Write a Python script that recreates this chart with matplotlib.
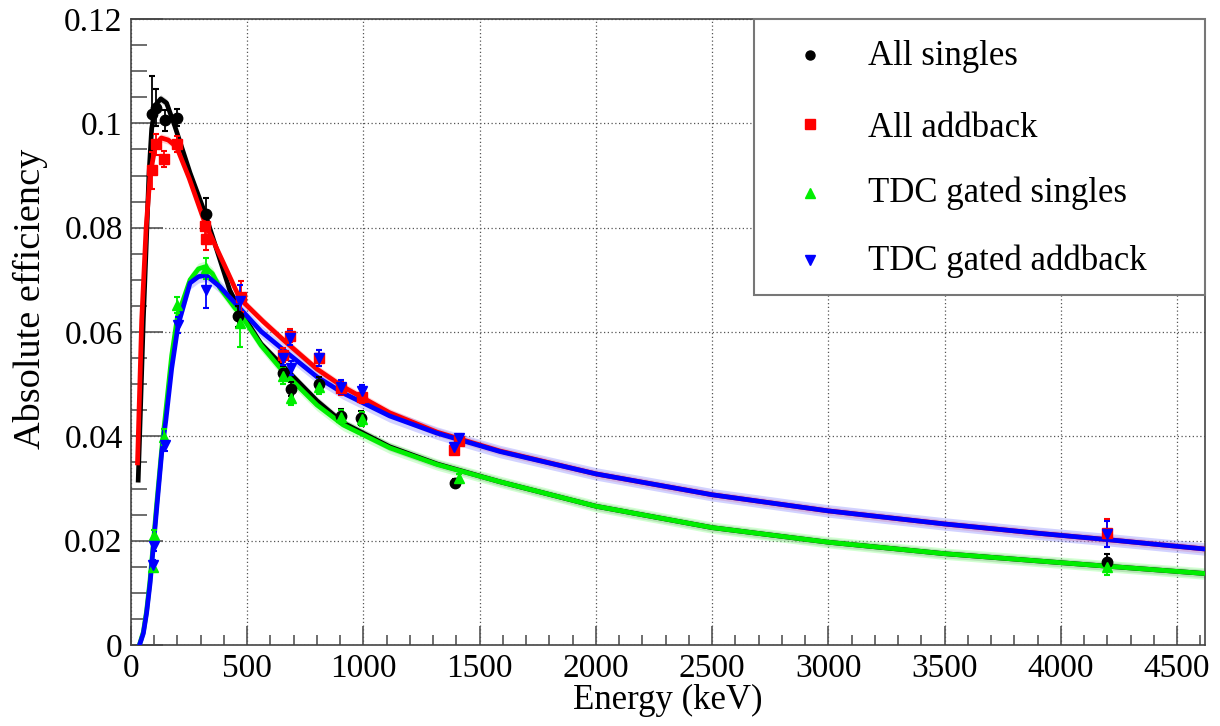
import matplotlib
matplotlib.use("Agg")
import matplotlib.pyplot as plt
from matplotlib.ticker import MultipleLocator, FuncFormatter
from matplotlib.patches import Rectangle

plt.rcParams['font.family'] = ['Liberation Serif', 'DejaVu Serif']

# measured points (energy in keV, absolute efficiency, error)
sing_e = [92, 107, 146, 196, 322, 461, 655, 688, 809, 902, 991, 1392, 4200]
sing_y = [0.1018, 0.1030, 0.1006, 0.1011, 0.0826, 0.0630, 0.0522, 0.0491, 0.0500, 0.0439, 0.0435, 0.0310, 0.0160]
sing_err = [0.0072, 0.0035, 0.0020, 0.0017, 0.0030, 0.0020, 0.0013, 0.0013, 0.0013, 0.0013, 0.0013, 0.0008, 0.0015]

add_e = [92, 107, 143, 196, 320, 323, 474, 655, 684, 809, 902, 992, 1390, 1410, 4200]
add_y = [0.0910, 0.0960, 0.0932, 0.0961, 0.0803, 0.0778, 0.0668, 0.0556, 0.0593, 0.0550, 0.0492, 0.0476, 0.0374, 0.0392, 0.0214]
add_err = [0.0035, 0.0020, 0.0015, 0.0015, 0.0020, 0.0020, 0.0030, 0.0013, 0.0013, 0.0015, 0.0013, 0.0013, 0.0008, 0.0008, 0.0027]

tdc_sing_e = [93, 100, 143, 196, 322, 468, 655, 688, 809, 902, 992, 1411, 4200]
tdc_sing_y = [0.0150, 0.0211, 0.0399, 0.0652, 0.0722, 0.0617, 0.0516, 0.0473, 0.0495, 0.0438, 0.0433, 0.0320, 0.0150]
tdc_sing_err = [0.0010, 0.0010, 0.0015, 0.0015, 0.0020, 0.0045, 0.0015, 0.0013, 0.0013, 0.0013, 0.0013, 0.0008, 0.0015]

tdc_add_e = [93, 100, 146, 203, 322, 470, 655, 684, 688, 809, 902, 993, 1391, 1411, 4200]
tdc_add_y = [0.0153, 0.0190, 0.0383, 0.0614, 0.0681, 0.0660, 0.0550, 0.0588, 0.0531, 0.0550, 0.0495, 0.0486, 0.0380, 0.0396, 0.0212]
tdc_add_err = [0.0010, 0.0010, 0.0012, 0.0015, 0.0035, 0.0030, 0.0013, 0.0013, 0.0013, 0.0015, 0.0013, 0.0013, 0.0008, 0.0008, 0.0025]

# fitted efficiency curves
sing_fit_e = [31, 40, 53, 65, 77, 89, 105, 128, 153, 189, 254, 318, 425, 476, 560, 655, 800, 912,
              1113, 1317, 1586, 2000, 2500, 3000, 3500, 3906, 4200, 4620]
sing_fit_y = [0.0316, 0.0440, 0.0623, 0.0760, 0.0900, 0.0990, 0.1035, 0.1047, 0.1039, 0.0994, 0.0905,
              0.0828, 0.0680, 0.0636, 0.0577, 0.0534, 0.0468, 0.0426,
              0.0380, 0.0347, 0.0313, 0.0266, 0.0225, 0.0197, 0.0175, 0.0161, 0.0151, 0.0137]

add_fit_e = [28, 46, 65, 82, 105, 130, 160, 196, 250, 318, 400, 468, 569, 655, 800, 912,
             1113, 1317, 1586, 2000, 2500, 3000, 3500, 3906, 4200, 4620]
add_fit_y = [0.0349, 0.0623, 0.0800, 0.0900, 0.0958, 0.0972, 0.0968, 0.0955, 0.0895, 0.0809, 0.0730,
             0.0664, 0.0620, 0.0585, 0.0529, 0.0495,
             0.0445, 0.0408, 0.0372, 0.0328, 0.0288, 0.0257, 0.0232, 0.0214, 0.0202, 0.0184]

tdc_sing_fit_e = [38, 53, 67, 82, 96, 110, 132, 150, 175, 200, 254, 290, 318, 350, 382, 447, 468, 560,
                  655, 800, 912, 1113, 1317, 1586, 2000, 2500, 3000, 3500, 3906, 4200, 4620]
tdc_sing_fit_y = [0.0003, 0.0025, 0.0065, 0.0125, 0.0195, 0.0268, 0.0375, 0.0450, 0.0555, 0.0630, 0.0700,
                  0.0721, 0.0725, 0.0712, 0.0685, 0.0646, 0.0636, 0.0574,
                  0.0524, 0.0460, 0.0422, 0.0378, 0.0346, 0.0313, 0.0266, 0.0225, 0.0197, 0.0175,
                  0.0161, 0.0151, 0.0137]

tdc_add_fit_e = [38, 53, 67, 82, 96, 110, 132, 150, 175, 203, 254, 290, 322, 382, 461, 560,
                 655, 800, 912, 1113, 1317, 1586, 2000, 2500, 3000, 3500, 3906, 4200, 4620]
tdc_add_fit_y = [0.0002, 0.0022, 0.0061, 0.0118, 0.0188, 0.0259, 0.0368, 0.0431, 0.0530, 0.0614, 0.0694,
                 0.0706, 0.0709, 0.0687, 0.0649, 0.0601,
                 0.0566, 0.0514, 0.0483, 0.0439, 0.0406, 0.0371, 0.0328, 0.0288, 0.0257, 0.0232,
                 0.0214, 0.0202, 0.0184]

labels = ["All singles", "All addback", "TDC gated singles", "TDC gated addback"]
colors = ["black", "#ff0000", "#00ee00", "#0000ff"]
band_colors = ["#888888", "#ff8080", "#80ff80", "#8080ff"]
markers = ["o", "s", "^", "v"]

points = [(sing_e, sing_y, sing_err), (add_e, add_y, add_err),
          (tdc_sing_e, tdc_sing_y, tdc_sing_err), (tdc_add_e, tdc_add_y, tdc_add_err)]
fits = [(sing_fit_e, sing_fit_y), (add_fit_e, add_fit_y),
        (tdc_sing_fit_e, tdc_sing_fit_y), (tdc_add_fit_e, tdc_add_fit_y)]
band_half = [0.0008, 0.0008, 0.0011, 0.0012]

fig = plt.figure(figsize=(12.2, 7.26), dpi=100)
ax = fig.add_axes([131 / 1220, 81 / 726, 1074 / 1220, 626 / 726])

for i, (fe, fy) in enumerate(fits):
    lo = [v - band_half[i] for v in fy]
    hi = [v + band_half[i] for v in fy]
    ax.fill_between(fe, lo, hi, color=band_colors[i], alpha=0.35, lw=0, zorder=2)
    ax.plot(fe, fy, color=colors[i], lw=3.4, zorder=3, solid_joinstyle='round')

for i, (e, y, err) in enumerate(points):
    ax.errorbar(e, y, yerr=err, fmt=markers[i], color=colors[i], ms=7.5, mec=colors[i],
                elinewidth=1.3, capsize=2.5, capthick=1.5, zorder=5)

ax.set_xlim(0, 4620)
ax.set_ylim(0, 0.12)
ax.xaxis.set_major_locator(MultipleLocator(500))
ax.xaxis.set_minor_locator(MultipleLocator(100))
ax.yaxis.set_major_locator(MultipleLocator(0.02))
ax.yaxis.set_minor_locator(MultipleLocator(0.005))
ax.yaxis.set_major_formatter(FuncFormatter(lambda v, p: "%g" % round(v, 3)))
ax.grid(True, which='major', color='#555555', linestyle=(0, (1, 2)), lw=0.9, zorder=1)
ax.tick_params(which='both', direction='in', colors='#555555', labelcolor='black',
               labelsize=24, width=1.2)
ax.tick_params(axis='x', which='major', length=14, pad=6)
ax.tick_params(axis='x', which='minor', length=7)
ax.tick_params(axis='y', which='major', length=23, pad=6)
ax.tick_params(axis='y', which='minor', length=11.5)
for s in ax.spines.values():
    s.set_color('#444444')
    s.set_linewidth(1.2)

ax.set_xlabel("Energy (keV)", fontsize=25, labelpad=0)
fig.text(30 / 1220, 1 - 299 / 726, "Absolute efficiency", rotation=90, fontsize=27.5,
         ha='center', va='center')

# legend box drawn by hand, ROOT style
ax.add_patch(Rectangle((0.580, 0.559), 0.42, 0.441, transform=ax.transAxes, facecolor='white',
                       edgecolor='#777777', lw=1.5, zorder=10, clip_on=False))
mark_y = [0.9425, 0.832, 0.7225, 0.615]
base_y = [0.9265, 0.812, 0.708, 0.599]
for i in range(4):
    ax.plot([0.632], [mark_y[i]], markers[i], color=colors[i], ms=6.5, transform=ax.transAxes,
            zorder=11, clip_on=False)
    ax.text(0.686, base_y[i], labels[i], transform=ax.transAxes, fontsize=25, va='baseline',
            ha='left', zorder=11)

fig.savefig("out.png", dpi=100)
